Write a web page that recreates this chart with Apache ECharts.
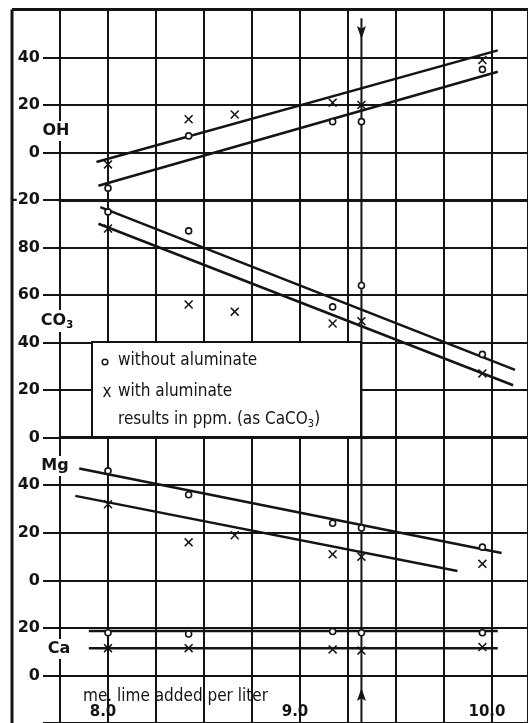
<!DOCTYPE html>
<html><head><meta charset="utf-8">
<script src="https://cdn.jsdelivr.net/npm/echarts@6/dist/echarts.min.js"></script>
<style>html,body{margin:0;padding:0;background:#fff}#c{width:528px;height:723px}</style>
</head><body><div id="c"></div>
<script>
// ---------- data ----------
const xTickValues = [8, 9, 10];
const xTickLabels = ['8.0', '9.0', '10.0'];
const xTitle = 'me. lime added per liter';
const doseX = [8.0, 8.42, 8.66, 9.17, 9.32, 9.95];
const arrowDose = 9.32;

const ohWithout = [-15, 7, null, 13, 13, 35];
const ohWith = [-5, 14, 16, 21, 20, 39];
const ohFitWithout = [[7.95, -14], [10.03, 34]];
const ohFitWith = [[7.94, -4], [10.03, 43]];
const ohTicks = [-20, 0, 20, 40];

const co3Without = [95, 87, null, 55, 64, 35];
const co3With = [88, 56, 53, 48, 49, 27];
const co3FitWithout = [[7.96, 97], [10.12, 28.5]];
const co3FitWith = [[7.95, 90], [10.11, 22]];
const co3Ticks = [0, 20, 40, 60, 80];

const mgWithout = [46, 36, null, 24, 22, 14];
const mgWith = [32, 16, 19, 11, 10, 7];
const mgFitWithout = [[7.85, 47], [10.05, 11.5]];
const mgFitWith = [[7.83, 35.5], [9.82, 4]];
const mgTicks = [0, 20, 40];

const caWithout = [18, 17.5, null, 18.5, 18, 18];
const caWith = [11.5, 11.5, null, 11, 10.5, 12];
const caFitWithout = [[7.9, 18.7], [10.03, 18.7]];
const caFitWith = [[7.9, 11.5], [10.03, 11.5]];
const caTicks = [0, 20];

const legendLines = ['without aluminate', 'with aluminate', 'results in ppm. (as '];
const legendTail = ['CaCO', '3', ')'];

// ---------- layout ----------
const INK = '#141414';
const panels = [
  { name: 'OH', without: ohWithout, with: ohWith, fitA: ohFitWithout, fitB: ohFitWith, ticks: ohTicks, min: -20, max: 60, top: 10, height: 190, base: 3, vTop: 56.5, vBot: -20 },
  { name: 'CO3', without: co3Without, with: co3With, fitA: co3FitWithout, fitB: co3FitWith, ticks: co3Ticks, min: 0, max: 100, top: 200, height: 237.5, base: 3, vTop: 100, vBot: 0 },
  { name: 'Mg', without: mgWithout, with: mgWith, fitA: mgFitWithout, fitB: mgFitWith, ticks: mgTicks, min: 0, max: 60, top: 437.5, height: 143, base: 2, vTop: 60, vBot: 0 },
  { name: 'Ca', without: caWithout, with: caWith, fitA: caFitWithout, fitB: caFitWith, ticks: caTicks, min: -20, max: 40, top: 580.5, height: 142.5, base: 2, vTop: 40, vBot: -20 }
];
const pairs = arr => doseX.map((x, i) => [x, arr[i]]).filter(p => p[1] != null);
const X_PATH = 'path://M0,1.2L1.2,0L5,3.8L8.8,0L10,1.2L6.2,5L10,8.8L8.8,10L5,6.2L1.2,10L0,8.8L3.8,5Z';
const ARROW = 'path://M5,0L10,14L5,11L0,14Z';

const grids = [], xAxes = [], yAxes = [], series = [];
panels.forEach((p, i) => {
  grids.push({ left: 60, right: 0, top: p.top, height: p.height, outerBoundsMode: 'none', containLabel: false });
  const last = i === panels.length - 1;
  xAxes.push({
    gridIndex: i, type: 'value', min: 7.75, max: 10.1875, interval: 0.25,
    axisLine: { show: true, onZero: false, lineStyle: { color: INK, width: p.base } },
    axisTick: { show: false },
    splitLine: { show: true, lineStyle: { color: INK, width: 2 } },
    axisLabel: last ? {
      show: true, inside: true, margin: 3, color: INK, fontFamily: 'DejaVu Sans', fontWeight: 'bold', fontSize: 15,
      padding: [0, 10, 0, 0],
      formatter: v => { const k = xTickValues.findIndex(t => Math.abs(t - v) < 1e-6); return k >= 0 ? xTickLabels[k] : ''; }
    } : { show: false }
  });
  yAxes.push({
    gridIndex: i, type: 'value', min: p.min, max: p.max, interval: 20,
    axisLine: { show: true, lineStyle: { color: INK, width: 2 } },
    axisTick: { show: true, length: 17, lineStyle: { color: INK, width: 2 } },
    splitLine: { show: true, lineStyle: { color: INK, width: 2 } },
    axisLabel: {
      show: true, margin: 20, color: INK, fontFamily: 'DejaVu Sans', fontWeight: 'bold', fontSize: 16,
      formatter: v => p.ticks.includes(v) ? String(v) : ''
    }
  });
  // vertical marker line
  series.push({ type: 'line', xAxisIndex: i, yAxisIndex: i, data: [[arrowDose, p.vTop], [arrowDose, p.vBot]],
    showSymbol: false, lineStyle: { color: INK, width: 2 }, z: 2, silent: true });
  [p.fitA, p.fitB].forEach(f => series.push({ type: 'line', xAxisIndex: i, yAxisIndex: i, data: f,
    showSymbol: false, lineStyle: { color: INK, width: 2.5 }, z: 3, silent: true }));
  series.push({ type: 'scatter', xAxisIndex: i, yAxisIndex: i, data: pairs(p.without), symbol: 'circle', symbolSize: 6,
    itemStyle: { color: '#fff', borderColor: INK, borderWidth: 1.6, opacity: 1 }, z: 4 });
  series.push({ type: 'scatter', xAxisIndex: i, yAxisIndex: i, data: pairs(p.with), symbol: X_PATH, symbolSize: 9,
    itemStyle: { color: INK, opacity: 1 }, z: 4 });
});
// arrowheads on the marker line
series.push({ type: 'scatter', xAxisIndex: 0, yAxisIndex: 0, data: [[arrowDose, 50.5]], symbol: ARROW, symbolRotate: 180,
  symbolSize: [9, 13], itemStyle: { color: INK, opacity: 1 }, z: 5 });
series.push({ type: 'scatter', xAxisIndex: 3, yAxisIndex: 3, data: [[arrowDose, -8]], symbol: ARROW,
  symbolSize: [9, 13], itemStyle: { color: INK, opacity: 1 }, z: 5 });

const labFont = { fontFamily: 'DejaVu Sans', fontWeight: 'bold', fontSize: 16 };
const condFont = "'Liberation Sans Narrow','DejaVu Sans Condensed','Roboto Condensed','DejaVu Sans',sans-serif";
const graphic = [
  { type: 'line', shape: { x1: 12, y1: 9.5, x2: 528, y2: 9.5 }, style: { stroke: INK, lineWidth: 3 }, z: 20 },
  { type: 'line', shape: { x1: 12, y1: 9.5, x2: 12, y2: 723 }, style: { stroke: INK, lineWidth: 3 }, z: 20 },
  { type: 'text', x: 56, y: 131, z: 20, style: Object.assign({ text: 'OH', fill: INK, align: 'center', verticalAlign: 'middle', backgroundColor: '#fff', padding: [2, 1] }, labFont) },
  { type: 'text', x: 57, y: 321, z: 20, style: { text: '{a|CO}{b|3}', align: 'center', verticalAlign: 'middle', backgroundColor: '#fff', padding: [2, 1],
      rich: { a: Object.assign({ fill: INK, color: INK, lineHeight: 18 }, labFont), b: { color: INK, fontFamily: 'DejaVu Sans', fontWeight: 'bold', fontSize: 10, lineHeight: 18, verticalAlign: 'bottom', padding: [8, 0, 0, 0] } } } },
  { type: 'text', x: 55, y: 466, z: 20, style: Object.assign({ text: 'Mg', fill: INK, align: 'center', verticalAlign: 'middle', backgroundColor: '#fff', padding: [2, 1] }, labFont) },
  { type: 'text', x: 59, y: 649, z: 20, style: Object.assign({ text: 'Ca', fill: INK, align: 'center', verticalAlign: 'middle', backgroundColor: '#fff', padding: [2, 1] }, labFont) },
  { type: 'text', x: 83, y: 697, z: 20, style: { text: xTitle, fill: INK, font: "17px " + condFont, align: 'left', verticalAlign: 'middle' } },
  { type: 'group', z: 30, children: [
    { type: 'rect', shape: { x: 92, y: 342, width: 269, height: 95 }, style: { fill: '#fff', stroke: INK, lineWidth: 2 }, z: 30 },
    { type: 'circle', shape: { cx: 105, cy: 362, r: 2.8 }, style: { fill: '#fff', stroke: INK, lineWidth: 1.5 }, z: 31 },
    { type: 'text', x: 118, y: 361, z: 31, style: { text: legendLines[0], fill: INK, font: "17px " + condFont, verticalAlign: 'middle' } },
    { type: 'text', x: 107, y: 393, z: 31, style: { text: 'x', fill: INK, font: "17px " + condFont, align: 'center', verticalAlign: 'middle' } },
    { type: 'text', x: 118, y: 392, z: 31, style: { text: legendLines[1], fill: INK, font: "17px " + condFont, verticalAlign: 'middle' } },
    { type: 'text', x: 118, y: 420, z: 31, style: { text: legendLines[2] + '{a|' + legendTail[0] + '}{b|' + legendTail[1] + '}{a|' + legendTail[2] + '}', fill: INK, font: "17px " + condFont, verticalAlign: 'middle',
        rich: { a: { fontFamily: condFont, fontSize: 17, color: INK, lineHeight: 20 }, b: { fontFamily: condFont, fontSize: 11, color: INK, lineHeight: 20, verticalAlign: 'bottom', padding: [8, 0, 0, 0] } } } }
  ] }
];

const chart = echarts.init(document.getElementById('c'), null, { renderer: 'canvas' });
chart.setOption({
  animation: false,
  backgroundColor: '#fff',
  grid: grids, xAxis: xAxes, yAxis: yAxes, series, graphic
});
</script></body></html>
